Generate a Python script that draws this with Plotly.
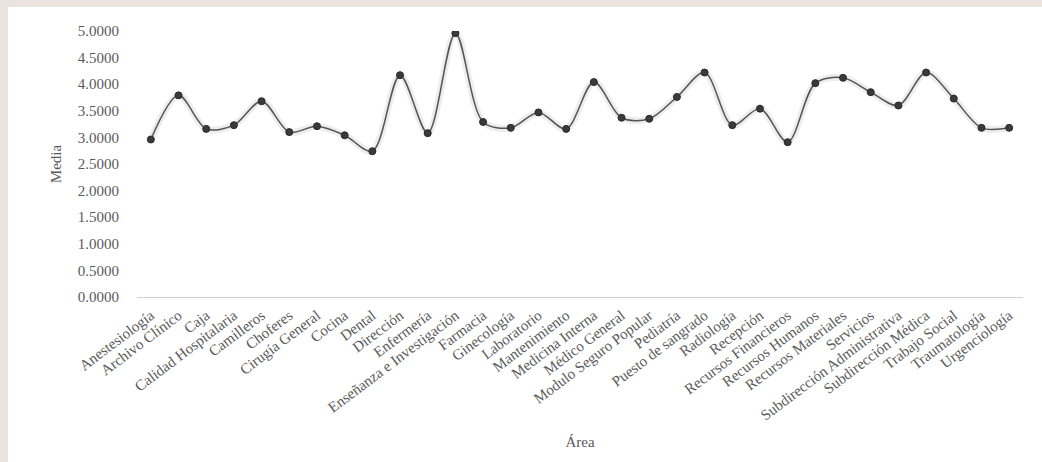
import plotly.graph_objects as go

# Mean score per hospital area
areas = [
    "Anestesiología", "Archivo Clínico", "Caja", "Calidad Hospitalaria",
    "Camilleros", "Choferes", "Cirugía General", "Cocina", "Dental",
    "Dirección", "Enfermería", "Enseñanza e Investigación", "Farmacia",
    "Ginecología", "Laboratorio", "Mantenimiento", "Medicina Interna",
    "Médico General", "Modulo Seguro Popular", "Pediatría",
    "Puesto de sangrado", "Radiología", "Recepción", "Recursos Financieros",
    "Recursos Humanos", "Recursos Materiales", "Servicios",
    "Subdirección Administrativa", "Subdirección Médica", "Trabajo Social",
    "Traumatología", "Urgenciología",
]
media = [
    2.96, 3.79, 3.16, 3.23, 3.68, 3.10, 3.21, 3.04, 2.74, 4.17, 3.08, 4.96,
    3.29, 3.18, 3.47, 3.16, 4.04, 3.37, 3.35, 3.76, 4.22, 3.23, 3.54, 2.91,
    4.02, 4.12, 3.85, 3.60, 4.22, 3.73, 3.18, 3.18,
]
y_ticks = [0, 0.5, 1.0, 1.5, 2.0, 2.5, 3.0, 3.5, 4.0, 4.5, 5.0]

W, H = 1042, 462
ML, MR, MT, MB = 137, 19, 31, 165
PANEL_LEFT, PANEL_TOP = 8, 7   # white panel inset from the page edge
FONT = "Liberation Serif"
TXT = "#5a5a5a"

fig = go.Figure()

# soft shadow under the curve
fig.add_trace(go.Scatter(
    x=areas, y=media, mode="lines",
    line=dict(color="rgba(0,0,0,0.07)", width=7, shape="spline", smoothing=0.9),
    hoverinfo="skip", showlegend=False,
))
fig.add_trace(go.Scatter(
    x=areas, y=media, mode="lines+markers",
    line=dict(color="#555555", width=1.5, shape="spline", smoothing=0.9),
    marker=dict(size=7, color="#3a3a3a", line=dict(color="#2a2a2a", width=1)),
    showlegend=False,
))

# white chart panel over the tinted page
pw, ph = W - ML - MR, H - MT - MB
fig.add_shape(
    type="rect", xref="paper", yref="paper", layer="below",
    x0=(PANEL_LEFT - ML) / pw, x1=(W - ML) / pw,
    y0=-MB / ph, y1=1 + (MT - PANEL_TOP) / ph,
    fillcolor="white", line=dict(width=0),
)

fig.update_layout(
    width=W, height=H,
    margin=dict(l=ML, r=MR, t=MT, b=MB, pad=0),
    paper_bgcolor="#ebe4de",
    plot_bgcolor="rgba(0,0,0,0)",
    font=dict(family=FONT, color=TXT, size=14),
    xaxis=dict(
        type="category", range=[-0.5, len(areas) - 0.5],
        showline=True, linecolor="#d0d0d0", linewidth=1,
        showgrid=False, zeroline=False, ticks="",
        tickangle=-37, ticklabelstandoff=3,
        tickfont=dict(family=FONT, size=15, color=TXT),
        title=dict(text="Área", font=dict(family=FONT, size=15, color=TXT), standoff=14),
    ),
    yaxis=dict(
        range=[0, 5], tickvals=y_ticks,
        ticktext=[f"{v:.4f}" for v in y_ticks],
        showline=False, showgrid=False, zeroline=False, ticks="",
        ticklabelstandoff=17,
        tickfont=dict(family=FONT, size=15, color=TXT),
        title=dict(text="Media", font=dict(family=FONT, size=15, color=TXT), standoff=12),
    ),
)

fig.write_html("out.html")
